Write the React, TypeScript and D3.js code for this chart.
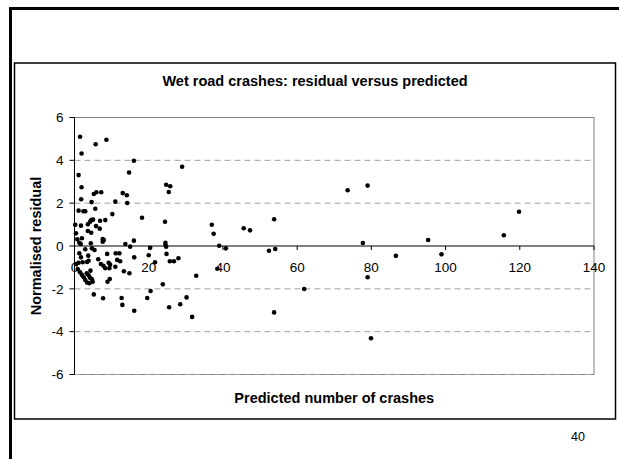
import React from "react";
import * as d3 from "d3";

const titleText = "Wet road crashes: residual versus predicted";
const xAxisTitle = "Predicted number of crashes";
const yAxisTitle = "Normalised residual";
const pageNumber = "40";

const xTicks = [0, 20, 40, 60, 80, 100, 120, 140];
const yTicks = [-6, -4, -2, 0, 2, 4, 6];

// Predicted number of crashes
const predicted = [
  1.5, 5.7, 8.6, 1.9, 16.0, 29.0, 14.7, 1.1, 1.9, 24.7, 25.8, 25.4, 5.9, 7.2, 5.2, 13.0,
  14.1, 1.8, 14.2, 4.6, 11.0, 5.6, 1.1, 2.4, 2.9, 10.2, 18.2, 24.4, 37.0, 4.5, 5.0, 4.2,
  6.9, 8.3, 0.2, 1.75, 3.6, 5.8, 6.8, 3.6, 4.5, 16.0, 0.4, 2.0, 0.75, 7.6, 7.9, 13.7,
  1.3, 1.7, 4.4, 37.5, 45.6, 47.3, 53.8, 73.6, 79.0, 77.7, 95.3, 115.7, 119.8, 24.5,
  24.5, 39.0, 7.6,
  15.0, 2.9, 4.7, 5.4, 1.3, 1.75, 3.7, 6.4, 8.8, 11.1, 12.1, 16.1, 11.5, 12.3, 7.1, 7.8,
  9.2, 9.6, 8.3, 9.4, 11.0, 13.3, 14.8, 0.4, 1.1, 2.2, 3.4, 3.8, 0.9, 1.5, 2.0, 2.5,
  2.9, 3.4, 4.0, 3.3, 3.8, 4.3, 4.2, 4.7, 4.9, 9.5, 8.9, 5.2, 7.7, 12.7, 12.9, 16.1,
  19.6, 20.5, 20.4, 20.0, 21.7, 24.7, 24.8, 25.7, 26.8, 28.0, 23.8, 32.8, 30.2, 28.5,
  25.5, 31.7, 38.5, 40.8, 52.4, 54.1, 53.8, 61.9, 79.0, 79.9, 86.6, 98.9,
];

// Normalised residual
const residual = [
  5.1, 4.75, 4.96, 4.32, 3.98, 3.7, 3.43, 3.31, 2.74, 2.86, 2.79, 2.52, 2.51, 2.51, 2.43, 2.47,
  2.37, 2.18, 2.01, 2.05, 2.07, 1.74, 1.65, 1.62, 1.62, 1.49, 1.32, 1.13, 0.99, 1.21, 1.23, 1.13,
  1.18, 1.21, 0.99, 0.95, 1.01, 0.93, 0.81, 0.7, 0.62, 0.25, 0.59, 0.36, 0.31, 0.33, 0.28, 0.09,
  0.15, 0.09, 0.13, 0.57, 0.83, 0.73, 1.25, 2.6, 2.82, 0.14, 0.28, 0.5, 1.6, 0.15,
  0.05, 0.01, 0.2,
  -0.03, -0.15, -0.11, -0.19, -0.34, -0.53, -0.45, -0.62, -0.37, -0.34, -0.34, -0.53, -0.65, -0.71, -0.84, -0.92,
  -0.78, -0.87, -1.04, -1.04, -0.97, -1.18, -1.27, -0.84, -0.78, -0.76, -0.75, -0.69, -1.09, -1.23, -1.35, -1.46,
  -1.59, -1.71, -1.74, -1.27, -1.37, -1.15, -1.48, -1.55, -1.67, -1.54, -1.67, -2.26, -2.44, -2.43, -2.75, -3.02,
  -2.43, -2.1, -0.08, -0.43, -0.76, -0.03, -0.37, -0.71, -0.71, -0.57, -1.79, -1.39, -2.4, -2.72,
  -2.86, -3.31, -1.06, -0.11, -0.22, -0.14, -3.1, -2.01, -1.46, -4.31, -0.46, -0.39,
];

const W = 619;
const H = 459;
const plot = { left: 74.5, right: 594, top: 117.5, bottom: 374.5 };
const font = "'Liberation Sans', Arial, sans-serif";

export default function App() {
  const x = d3.scaleLinear().domain([0, 140]).range([plot.left, plot.right]);
  const y = d3.scaleLinear().domain([-6, 6]).range([plot.bottom, plot.top]);
  const pts = predicted.map((p, i) => ({ p, r: residual[i] }));
  const y0 = y(0);

  return (
    <svg
      width={W}
      height={H}
      style={{ position: "absolute", left: 0, top: 0, background: "#fff" }}
      fontFamily={font}
    >
      <rect x={0} y={0} width={W} height={H} fill="#fff" />
      {/* slide frame */}
      <line x1={9} x2={W} y1={8.5} y2={8.5} stroke="#000" strokeWidth={3} />
      <line x1={10.5} x2={10.5} y1={7} y2={H} stroke="#000" strokeWidth={3} />
      {/* chart box */}
      <rect x={14.5} y={63} width={601} height={356} fill="#fff" stroke="#000" strokeWidth={1.5} />
      <text x={315} y={86} textAnchor="middle" fontWeight="bold" fontSize={14.5}>
        {titleText}
      </text>
      {/* plot border */}
      <rect
        x={plot.left}
        y={plot.top}
        width={plot.right - plot.left}
        height={plot.bottom - plot.top}
        fill="#fff"
        stroke="#808080"
        strokeWidth={1}
      />
      {/* gridlines */}
      {yTicks
        .filter((t) => t !== 0 && t !== 6)
        .map((t) => (
          <line
            key={"g" + t}
            x1={plot.left}
            x2={plot.right}
            y1={y(t)}
            y2={y(t)}
            stroke="#a0a0a0"
            strokeWidth={1}
            strokeDasharray="6,4"
          />
        ))}
      {/* y axis */}
      <line x1={plot.left} x2={plot.left} y1={plot.top} y2={plot.bottom} stroke="#000" strokeWidth={1} />
      {yTicks.map((t) => (
        <g key={"y" + t}>
          <line x1={plot.left - 5} x2={plot.left} y1={y(t)} y2={y(t)} stroke="#000" strokeWidth={1} />
          <text x={plot.left - 11} y={y(t)} dy="0.35em" textAnchor="end" fontSize={13.5}>
            {t}
          </text>
        </g>
      ))}
      {/* x axis at 0 */}
      <line x1={plot.left} x2={plot.right} y1={y0} y2={y0} stroke="#000" strokeWidth={1} />
      {xTicks.map((t) => (
        <g key={"x" + t}>
          <line x1={x(t)} x2={x(t)} y1={y0} y2={y0 + 4} stroke="#000" strokeWidth={1} />
          <text x={x(t)} y={y0 + 21} dy="0.35em" textAnchor="middle" fontSize={13.5}>
            {t}
          </text>
        </g>
      ))}
      {/* points */}
      {pts.map((d, i) => (
        <circle key={i} cx={x(d.p)} cy={y(d.r)} r={2.3} fill="#000" />
      ))}
      <text
        transform={`translate(36,${(plot.top + plot.bottom) / 2}) rotate(-90)`}
        textAnchor="middle"
        dy="0.35em"
        fontWeight="bold"
        fontSize={14.5}
      >
        {yAxisTitle}
      </text>
      <text x={(plot.left + plot.right) / 2} y={398} dy="0.35em" textAnchor="middle" fontWeight="bold" fontSize={14.5}>
        {xAxisTitle}
      </text>
      <text x={578} y={437} dy="0.35em" textAnchor="middle" fontSize={12.5}>
        {pageNumber}
      </text>
    </svg>
  );
}
